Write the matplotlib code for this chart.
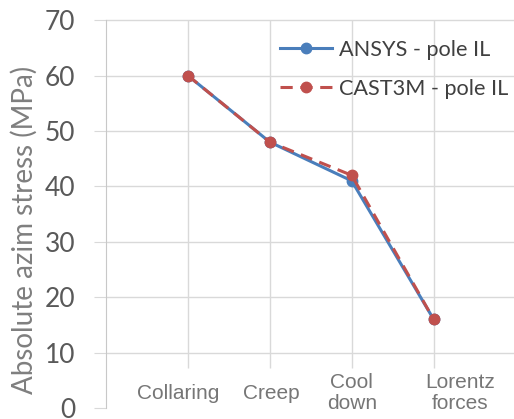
import numpy as np
import matplotlib
matplotlib.use("Agg")
from matplotlib import pyplot as plt

# data
stages = ["Collaring", "Creep", "Cool\ndown", "Lorentz\nforces"]
ansys = [60, 48, 41, 16]
cast3m = [60, 48, 42, 16]
label_offsets = [-0.12, 0.02, 0.0, 0.32]  # Excel put the labels a bit off
yticks = [0, 10, 20, 30, 40, 50, 60, 70]

grid_c = "#d9d9d9"
text_c = "#595959"

fig = plt.figure(figsize=(5.14, 4.19), dpi=100)
ax = fig.add_axes([0.206, 0.026, 0.794, 0.926])

x = np.arange(len(stages))
ax.plot(x, ansys, color="#4a7ebb", lw=2.2, marker="o", ms=7.5, label="ANSYS - pole IL", zorder=3)
ax.plot(x, cast3m, color="#c0504d", lw=2.2, ls=(0, (4, 2.5)), marker="o", ms=7.5,
        label="CAST3M - pole IL", zorder=4)

ax.set_xlim(-1.0, 3.98)
ax.set_ylim(0, 70)
ax.set_yticks(yticks)
ax.set_xticks([])
for yv in yticks[1:]:
    ax.axhline(yv, color=grid_c, lw=1, zorder=0, clip_on=False)
ax.vlines(x, 7.2, 70, color=grid_c, lw=1, zorder=0)

for s in ["top", "right", "bottom"]:
    ax.spines[s].set_visible(False)
ax.spines["left"].set_color("#c8c8c8")
ax.tick_params(axis="y", length=9, color=grid_c, labelsize=19, labelcolor=text_c, pad=13)
for t in ax.get_yticklabels():
    t.set_family("Lato")

for xi, name, off in zip(x, stages, label_offsets):
    ax.text(xi + off, 2.7, name, ha="center", va="center", fontsize=15,
            color="#767676", family="Liberation Sans", linespacing=1.15, clip_on=False)

ax.set_ylabel("Absolute azim stress (MPa)", fontsize=20, color="#7f7f7f", family="Lato")
ax.yaxis.set_label_coords(-0.168, 0.46)

leg = ax.legend(loc="upper left", bbox_to_anchor=(0.405, 0.972), frameon=False,
                prop={"family": "Lato", "size": 15.6}, handlelength=2.4,
                labelspacing=0.88, handletextpad=0.35, borderaxespad=0)
for t in leg.get_texts():
    t.set_color("#404040")

fig.savefig("out.png", dpi=100)
